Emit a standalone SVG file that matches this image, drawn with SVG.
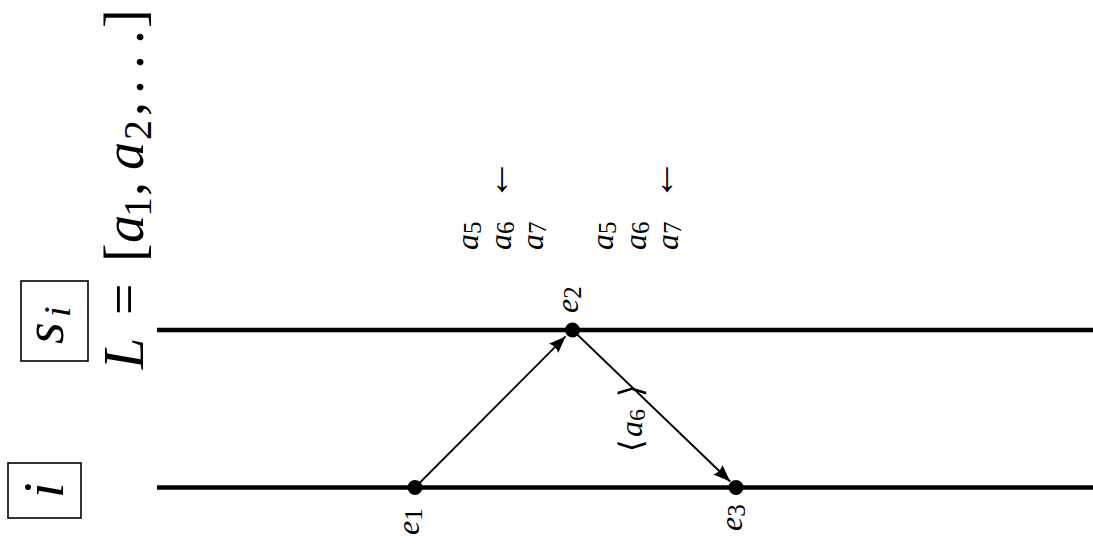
<svg xmlns="http://www.w3.org/2000/svg" width="1093" height="555" viewBox="0 0 1093 555">
<style>
  .t { font-family: "Liberation Serif", "DejaVu Serif", serif; fill: #000; }
  .it { font-style: italic; }
  .box { fill: none; stroke: #000; stroke-width: 1.6; }
  .lane { stroke: #000; stroke-width: 4.5; }
  .msg { stroke: #000; stroke-width: 1.8; fill: none; }
  .dot { fill: #000; }
  .arr { font-family: "Liberation Serif", "DejaVu Serif", serif; fill: #000; }
</style>
<defs>
  <marker id="ah" viewBox="-18 -8 19 16" refX="0" refY="0" markerWidth="19" markerHeight="16" markerUnits="userSpaceOnUse" orient="auto">
    <path d="M0,0 L-17,-6.5 Q-13.5,0 -17,6.5 Z" fill="#000"/>
  </marker>
</defs>
<rect width="1093" height="555" fill="#fff"/>

<g id="process-si">
  <rect class="box" x="21" y="281" width="67" height="80"/>
  <text class="t" transform="translate(63,344) rotate(-90)" font-size="56"><tspan class="it">s</tspan><tspan class="it" font-size="38" x="27" dy="7">i</tspan></text>
  <line class="lane" x1="157" y1="330" x2="1093" y2="330"/>
</g>

<g id="process-i">
  <rect class="box" x="8" y="463" width="73" height="55"/>
  <text class="t it" transform="translate(63,498) rotate(-90)" font-size="56">i</text>
  <line class="lane" x1="157" y1="487.5" x2="1093" y2="487.5"/>
</g>

<g id="list-L">
  <text class="t" transform="translate(143,369) rotate(-90)" font-size="56"><tspan class="it" x="0">L</tspan><tspan x="54">=</tspan><tspan x="107">[</tspan><tspan class="it" x="126">a</tspan><tspan font-size="40" x="152" dy="8">1</tspan><tspan x="173" dy="-8">,</tspan><tspan class="it" x="199">a</tspan><tspan font-size="40" x="229" dy="8">2</tspan><tspan x="253" dy="-8">,</tspan><tspan x="275">.</tspan><tspan x="300">.</tspan><tspan x="325">.</tspan><tspan x="341">]</tspan></text>
</g>

<g id="queue-1">
  <text class="t" transform="translate(478,250) rotate(-90)" font-size="32"><tspan class="it">a</tspan><tspan font-size="25" dy="3">5</tspan></text>
  <text class="t" transform="translate(511,250) rotate(-90)" font-size="32"><tspan class="it">a</tspan><tspan font-size="25" dy="3">6</tspan></text>
  <text class="t" transform="translate(543,250) rotate(-90)" font-size="32"><tspan class="it">a</tspan><tspan font-size="25" dy="3">7</tspan></text>
  <text class="arr" transform="translate(509,201) rotate(-90)" font-size="42">←</text>
</g>

<g id="queue-2">
  <text class="t" transform="translate(613,250) rotate(-90)" font-size="32"><tspan class="it">a</tspan><tspan font-size="25" dy="3">5</tspan></text>
  <text class="t" transform="translate(646,250) rotate(-90)" font-size="32"><tspan class="it">a</tspan><tspan font-size="25" dy="3">6</tspan></text>
  <text class="t" transform="translate(678,250) rotate(-90)" font-size="32"><tspan class="it">a</tspan><tspan font-size="25" dy="3">7</tspan></text>
  <text class="arr" transform="translate(674,201) rotate(-90)" font-size="42">←</text>
</g>

<g id="connectors">
  <line class="msg" x1="415" y1="487.5" x2="565.6" y2="336.4" marker-end="url(#ah)"/>
  <line class="msg" x1="572.5" y1="330" x2="730.2" y2="481.5" marker-end="url(#ah)"/>
  <text class="t" transform="translate(642,452) rotate(-90)" font-size="32"><tspan x="0">⟨</tspan><tspan class="it" x="15">a</tspan><tspan font-size="24" x="31" dy="3">6</tspan><tspan x="55" dy="-3">⟩</tspan></text>
</g>

<g id="event-e1">
  <circle class="dot" cx="415" cy="487.5" r="7.5"/>
  <text class="t" transform="translate(419,535) rotate(-90)" font-size="32"><tspan class="it">e</tspan><tspan font-size="25" dy="3">1</tspan></text>
</g>
<g id="event-e2">
  <circle class="dot" cx="572.5" cy="330" r="7.5"/>
  <text class="t" transform="translate(578,313) rotate(-90)" font-size="32"><tspan class="it">e</tspan><tspan font-size="25" dy="3">2</tspan></text>
</g>
<g id="event-e3">
  <circle class="dot" cx="736" cy="487.5" r="7.5"/>
  <text class="t" transform="translate(742,531) rotate(-90)" font-size="32"><tspan class="it">e</tspan><tspan font-size="25" dy="3">3</tspan></text>
</g>
</svg>
